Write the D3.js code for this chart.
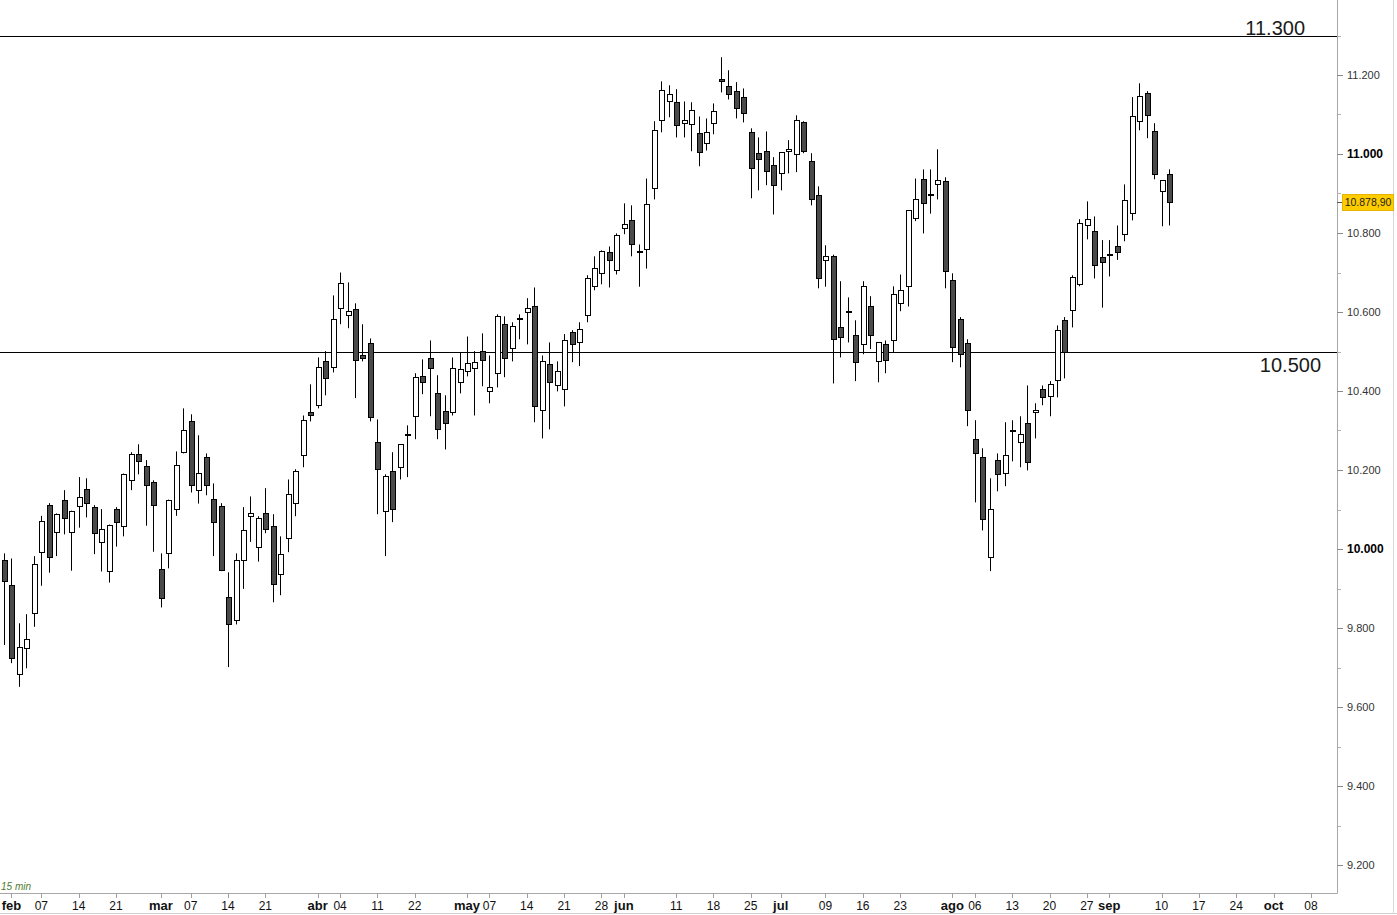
<!DOCTYPE html>
<html>
<head>
<meta charset="utf-8">
<script src="https://cdn.jsdelivr.net/npm/d3@7"></script>
<style>
  html, body { margin: 0; padding: 0; background: #ffffff; }
  svg { display: block; }
  .ax { font-family: "Liberation Sans", Arial, sans-serif; }
  .xl { font-family: "Liberation Sans Narrow", "Arial Narrow", "Liberation Sans", Arial, sans-serif; }
</style>
</head>
<body>
<svg id="chart" width="1397" height="915"></svg>
<script>
// ---------- data (trading-day index 0..156) ----------
const openVals = [9971,9908,9683,9749,9837,9992,10111,10042,10123,10042,10108,10152,10106,10017,9943,10101,10057,10174,10240,10209,
10169,9949,9988,10101,10246,10323,10149,10232,10126,10108,9878,9820,9971,10082,10004,10090,10057,9936,10027,10116,
10237,10346,10364,10475,10460,10609,10592,10607,10490,10521,10270,10095,10197,10207,10288,10336,10437,10483,10394,10349,
10346,10422,10450,10457,10501,10399,10445,10569,10508,10583,10599,10614,10351,10468,10414,10404,10549,10523,10592,10665,
10698,10751,10706,10814,10834,10752,10759,10913,11085,11133,11131,11078,11075,11052,11027,11078,11189,11171,11159,11144,
11055,11002,11007,10971,10951,11007,10999,11080,10982,10895,10733,10741,10561,10600,10541,10518,10614,10475,10518,10528,
10622,10665,10837,10936,10897,10923,10931,10680,10582,10521,10278,10232,9979,10225,10192,10300,10270,10318,10346,10404,
10387,10427,10579,10604,10670,10819,10804,10738,10745,10766,10797,10850,11083,11154,11057,10906,10949];
const highVals = [9989,9976,9812,9835,9982,10084,10116,10090,10149,10097,10182,10179,10111,10101,10062,10106,10191,10245,10265,10225,
10174,9989,10125,10247,10356,10341,10288,10242,10166,10116,9941,9989,10106,10133,10083,10154,10088,10032,10176,10202,
10338,10417,10485,10501,10642,10700,10675,10622,10569,10533,10328,10189,10245,10265,10313,10445,10480,10528,10440,10389,
10485,10498,10538,10501,10546,10490,10594,10589,10574,10594,10635,10662,10490,10523,10475,10544,10554,10574,10693,10741,
10756,10766,10799,10875,10870,10771,10938,11083,11184,11174,11164,11133,11131,11095,11090,11128,11245,11212,11182,11166,
11065,11042,11057,10992,11004,11035,11098,11083,11002,10918,10769,10745,10678,10637,10579,10678,10640,10523,10528,10665,
10695,10857,10938,10961,10961,11012,10941,10698,10587,10531,10326,10255,10179,10242,10321,10326,10336,10414,10369,10414,
10425,10566,10587,10693,10835,10880,10842,10782,10782,10819,10923,11144,11179,11159,11078,10933,10961];
const lowVals = [9757,9711,9651,9698,9803,9907,9940,9982,10037,9945,10054,10080,9987,9943,9915,10006,10032,10149,10189,10059,
9993,9852,9951,10084,10242,10143,10115,10136,9982,9944,9701,9809,9899,10018,9968,10040,9865,9883,9992,10083,
10207,10323,10356,10389,10447,10569,10559,10382,10475,10323,10088,9982,10068,10176,10182,10278,10392,10336,10278,10252,
10338,10394,10437,10338,10412,10369,10409,10435,10475,10531,10518,10321,10280,10303,10399,10361,10473,10463,10574,10655,
10670,10662,10695,10797,10741,10664,10710,10885,11055,11093,11042,11042,11007,10969,11009,11050,11156,11138,11090,11080,
10888,10908,10921,10847,10908,10951,10954,11002,10870,10660,10664,10419,10485,10523,10425,10493,10506,10422,10445,10498,
10602,10614,10830,10799,10849,10885,10660,10473,10460,10311,10118,10047,9944,10146,10159,10222,10207,10199,10280,10364,
10336,10384,10432,10561,10665,10784,10685,10611,10690,10732,10779,10832,11060,11040,10936,10817,10819];
const closeVals = [9918,9723,9751,9771,9961,10070,9979,10088,10078,10095,10131,10116,10040,10050,10060,10068,10189,10240,10222,10161,
10111,9875,10123,10212,10301,10161,10192,10161,10068,9946,9809,9971,10047,10090,10078,10050,9911,9987,10138,10197,
10326,10338,10460,10432,10582,10673,10602,10478,10482,10334,10202,10184,10101,10265,10290,10435,10422,10457,10303,10318,
10457,10455,10470,10473,10478,10409,10589,10483,10564,10585,10609,10361,10475,10422,10450,10528,10518,10556,10685,10711,
10754,10731,10794,10824,10773,10754,10873,11060,11161,11151,11072,11085,11111,11004,11055,11108,11184,11151,11116,11103,
10964,10986,10956,10921,11004,11012,11085,11007,10885,10685,10743,10531,10536,10602,10473,10665,10541,10523,10478,10645,
10655,10857,10885,10875,10899,10933,10703,10511,10493,10351,10242,10075,10101,10189,10237,10302,10290,10219,10351,10384,
10417,10554,10498,10688,10825,10835,10718,10726,10747,10751,10883,11095,11146,11098,10949,10933,10878.9];

// time axis labels (bar index where each label sits)
const xTickLabels = ["feb","07","14","21","mar","07","14","21","abr","04","11","22","may","07","14","21","28","jun","11","18","25",
  "jul","09","16","23","ago","06","13","20","27","sep","10","17","24","oct","08"];
const xTickIndex = [1,5,10,15,21,25,30,35,42,45,50,55,62,65,70,75,80,83,90,95,100,104,110,115,120,127,130,135,140,145,148,155,160,165,170,175];
const monthNames = ["feb","mar","abr","may","jun","jul","ago","sep","oct"];

// price axis
const yTickValues = [9200,9400,9600,9800,10000,10200,10400,10600,10800,11000,11200,11400];
const yMinorValues = [9300,9500,9700,9900,10100,10300,10500,10700,10900,11100,11300];
const boldTicks = [10000, 11000];

// horizontal levels
const levels = [11300, 10500];
const levelLabels = ["11.300", "10.500"];
const lastPrice = 10878.90;
const lastPriceLabel = "10.878,90";
const periodLabel = "15 min";

// ---------- drawing ----------
const W = 1397, H = 915;
const plotRight = 1337, plotBottom = 893;
const svg = d3.select("#chart");

const x = d3.scaleLinear().domain([0, 156]).range([4, 1169]);
const y = d3.scaleLinear().domain([10000, 11000]).range([549, 154]);

const loc = d3.formatLocale({decimal: ",", thousands: ".", grouping: [3], currency: ["", ""]});
const fmt = loc.format(",.0f");

svg.append("rect").attr("width", W).attr("height", H).attr("fill", "#ffffff");

// outer frame
svg.append("line").attr("x1", 0).attr("x2", W).attr("y1", 913.5).attr("y2", 913.5).attr("stroke", "#cfcfcf");
svg.append("line").attr("x1", 1393.5).attr("x2", 1393.5).attr("y1", 0).attr("y2", 914).attr("stroke", "#d8d8d8");

// plot borders
svg.append("line").attr("x1", plotRight + 0.5).attr("x2", plotRight + 0.5).attr("y1", 0).attr("y2", plotBottom + 0.5)
  .attr("stroke", "#a8a8a8");
svg.append("line").attr("x1", 0).attr("x2", plotRight + 0.5).attr("y1", plotBottom + 0.5).attr("y2", plotBottom + 0.5)
  .attr("stroke", "#a8a8a8");

// level lines
const lv = svg.append("g");
levels.forEach((v, i) => {
  const yy = Math.round(y(v)) + 0.5;
  lv.append("line").attr("x1", 0).attr("x2", plotRight).attr("y1", yy).attr("y2", yy)
    .attr("stroke", "#000").attr("stroke-width", 1);
});
lv.append("text").attr("class", "ax").attr("x", 1305).attr("y", y(levels[0]) - 1)
  .attr("text-anchor", "end").attr("font-size", 20).attr("fill", "#1a1a1a").text(levelLabels[0]);
lv.append("text").attr("class", "ax").attr("x", 1321).attr("y", y(levels[1]) + 20)
  .attr("text-anchor", "end").attr("font-size", 20).attr("fill", "#1a1a1a").text(levelLabels[1]);

// candles
const idx = d3.range(openVals.length);
const cg = svg.append("g");
cg.selectAll("line.wick").data(idx).join("line")
  .attr("class", "wick")
  .attr("x1", i => Math.round(x(i)) + 0.5).attr("x2", i => Math.round(x(i)) + 0.5)
  .attr("y1", i => y(highVals[i])).attr("y2", i => y(lowVals[i]))
  .attr("stroke", "#000").attr("stroke-width", 1);
cg.selectAll("rect.body").data(idx).join("rect")
  .attr("class", "body")
  .attr("x", i => Math.round(x(i)) - 2 + 0.5)
  .attr("width", 5)
  .attr("y", i => Math.round(y(Math.max(openVals[i], closeVals[i]))) + 0.5)
  .attr("height", i => Math.max(1, Math.round(Math.abs(y(openVals[i]) - y(closeVals[i])))))
  .attr("fill", i => closeVals[i] >= openVals[i] ? "#ffffff" : "#4a4a4a")
  .attr("stroke", "#000").attr("stroke-width", 1);

// y axis
const ya = svg.append("g");
ya.selectAll("line.maj").data(yTickValues).join("line")
  .attr("x1", plotRight).attr("x2", plotRight + 6)
  .attr("y1", d => Math.round(y(d)) + 0.5).attr("y2", d => Math.round(y(d)) + 0.5)
  .attr("stroke", "#8a8a8a");
ya.selectAll("line.min").data(yMinorValues).join("line")
  .attr("x1", plotRight).attr("x2", plotRight + 4)
  .attr("y1", d => Math.round(y(d)) + 0.5).attr("y2", d => Math.round(y(d)) + 0.5)
  .attr("stroke", "#b0b0b0");
ya.selectAll("text").data(yTickValues).join("text")
  .attr("class", "ax")
  .attr("x", 1347).attr("y", d => y(d) + 4)
  .attr("font-size", d => boldTicks.includes(d) ? 12 : 11)
  .attr("font-weight", d => boldTicks.includes(d) ? "bold" : "normal")
  .attr("fill", d => boldTicks.includes(d) ? "#000" : "#333")
  .text(d => fmt(d));

// last price tag
const py = y(lastPrice);
svg.append("line").attr("x1", plotRight).attr("x2", plotRight + 5)
  .attr("y1", Math.round(py) + 0.5).attr("y2", Math.round(py) + 0.5).attr("stroke", "#555");
svg.append("rect").attr("x", 1342.5).attr("y", Math.round(py) - 7.5).attr("width", 51).attr("height", 16)
  .attr("fill", "#ffcc00").attr("stroke", "#e8b400");
svg.append("text").attr("class", "ax").attr("x", 1368).attr("y", py + 4)
  .attr("text-anchor", "middle").attr("font-size", 10.5).attr("fill", "#222").text(lastPriceLabel);

// x axis
const xa = svg.append("g");
xa.selectAll("line").data(xTickIndex).join("line")
  .attr("x1", d => Math.round(x(d)) + 0.5).attr("x2", d => Math.round(x(d)) + 0.5)
  .attr("y1", plotBottom).attr("y2", plotBottom + 5)
  .attr("stroke", "#a0a0a0");
xa.selectAll("text").data(xTickLabels).join("text")
  .attr("class", "xl")
  .attr("x", (d, i) => x(xTickIndex[i]))
  .attr("y", 910)
  .attr("text-anchor", "middle")
  .attr("font-size", d => monthNames.includes(d) ? 13 : 12)
  .attr("font-weight", d => monthNames.includes(d) ? "bold" : "normal")
  .attr("fill", "#111")
  .text(d => d);

// period label
svg.append("text").attr("class", "ax").attr("x", 1).attr("y", 890)
  .attr("font-size", 10).attr("font-style", "italic").attr("fill", "#4f7a2e").text(periodLabel);
</script>
</body>
</html>
